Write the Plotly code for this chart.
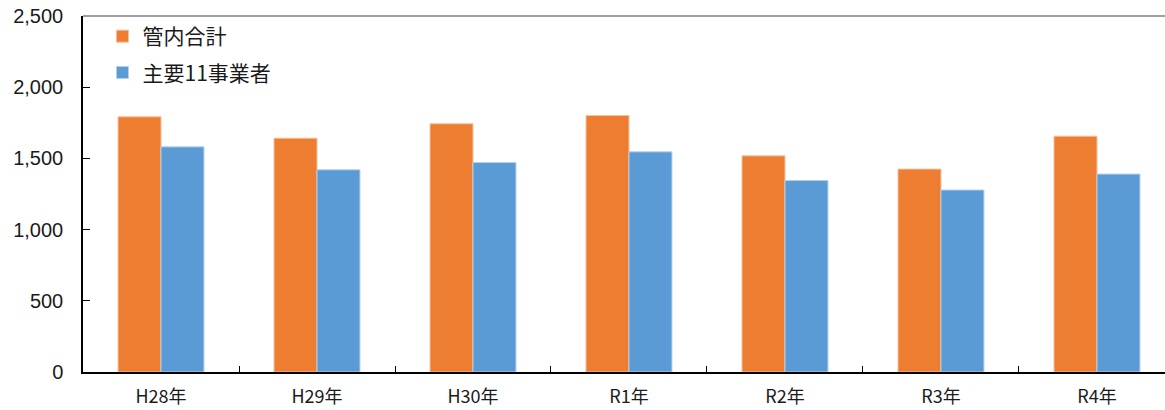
import plotly.graph_objects as go

categories = ["H28年", "H29年", "H30年", "R1年", "R2年", "R3年", "R4年"]
total_values = [1792, 1642, 1743, 1801, 1518, 1425, 1656]
major11_values = [1581, 1420, 1471, 1546, 1345, 1278, 1390]
series_names = ["管内合計", "主要11事業者"]
y_tickvals = [0, 500, 1000, 1500, 2000, 2500]
y_ticktext = ["0", "500", "1,000", "1,500", "2,000", "2,500"]

ORANGE = "#ED7D31"
BLUE = "#5B9BD5"
CJK = "Noto Sans CJK JP, Liberation Sans, sans-serif"
NUM = "Liberation Sans, Arial, sans-serif"

fig = go.Figure()
fig.add_trace(go.Bar(
    x=categories, y=total_values, name=series_names[0],
    marker=dict(color=ORANGE, line=dict(color="#F6C09C", width=1)),
    legendgroup="a",
))
fig.add_trace(go.Bar(
    x=categories, y=major11_values, name=series_names[1],
    marker=dict(color=BLUE, line=dict(color="#B5D0EC", width=1)),
    legendgroup="b",
))

fig.update_layout(
    width=1165, height=410,
    margin=dict(l=83, r=0, t=16, b=38, autoexpand=False),
    paper_bgcolor="white", plot_bgcolor="white",
    barmode="group", bargap=0.449, bargroupgap=0,
    showlegend=True,
    legend=dict(
        x=0.018, y=1.0, xanchor="left", yanchor="top",
        font=dict(family=CJK, size=21, color="#1a1a1a"),
        bgcolor="rgba(0,0,0,0)", tracegroupgap=6,
        itemwidth=30,
    ),
    font=dict(family=NUM, color="#1a1a1a"),
)

fig.update_xaxes(
    type="category", range=[-0.5, 6.436],
    showline=True, linecolor="#000000", linewidth=1.5,
    ticks="inside", tickson="boundaries", ticklen=6, tickcolor="#000000", tickwidth=1,
    showgrid=False, zeroline=False,
    tickfont=dict(family=CJK, size=18, color="#1a1a1a"),
    ticklabelstandoff=8,
    automargin=False,
    fixedrange=True,
)
fig.update_yaxes(
    range=[0, 2500],
    tickvals=y_tickvals, ticktext=y_ticktext,
    showline=True, linecolor="#000000", linewidth=1.5,
    ticks="inside", ticklen=7, tickcolor="#000000", tickwidth=1,
    showgrid=False, zeroline=False,
    tickfont=dict(family=NUM, size=20, color="#1a1a1a"),
    ticklabelstandoff=14,
    automargin=False,
    fixedrange=True,
)

fig.add_shape(type="line", xref="paper", yref="paper", x0=0, x1=1, y0=1, y1=1,
              line=dict(color="#808080", width=1.5))

fig.write_html("out.html", config={"displayModeBar": False},
               post_script="document.body.style.margin='0px';document.body.style.overflow='hidden';")
